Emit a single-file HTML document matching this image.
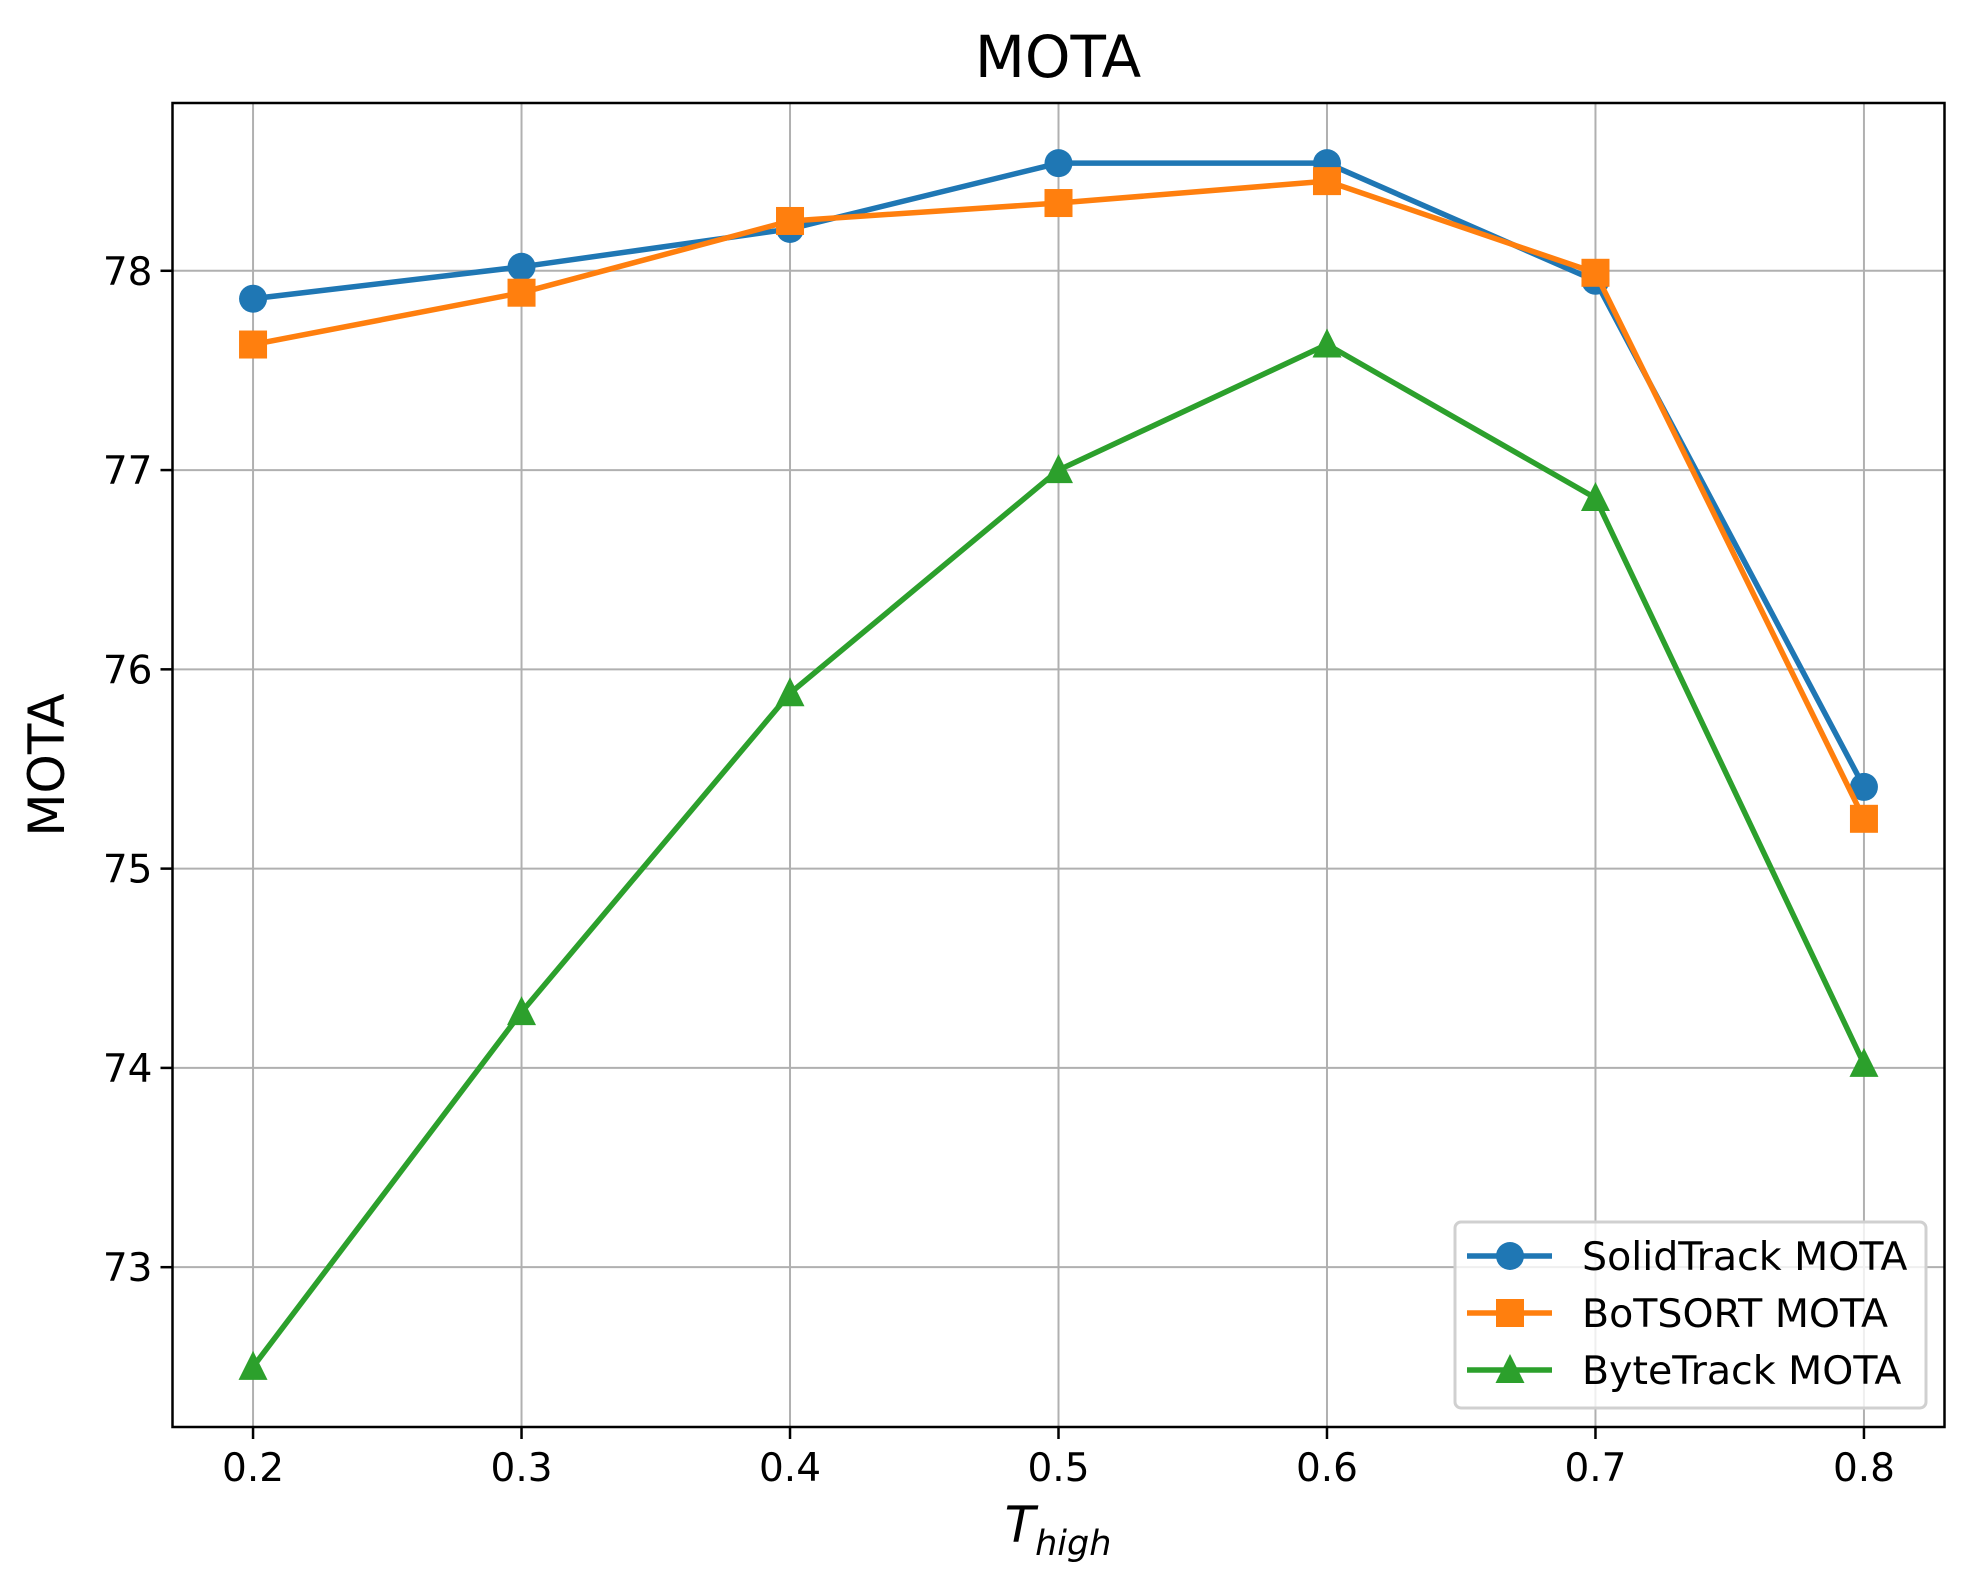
<!DOCTYPE html>
<html><head><meta charset="utf-8"><style>
html,body{margin:0;padding:0;background:#fff;}
svg{display:block;font-family:"DejaVu Sans","Liberation Sans",sans-serif;}
</style></head><body>
<svg id="chart" width="1975" height="1586" viewBox="0 0 1975 1586" xmlns="http://www.w3.org/2000/svg">
<rect width="1975" height="1586" fill="#fff"/>
<g id="grid"></g>
<g id="series"></g>
<rect x="172.5" y="103" width="1772" height="1324" fill="none" stroke="#000" stroke-width="2.5"/>
<g id="ticks"></g>
<text x="1058" y="77" font-size="58" text-anchor="middle">MOTA</text>
<text transform="translate(64,765) rotate(-90)" font-size="50" text-anchor="middle">MOTA</text>
<text x="1058" y="1542" font-size="50" text-anchor="middle" font-style="italic">T<tspan font-size="35" dy="13">high</tspan></text>
<g id="legend"></g>
</svg>
<script>
const categories = [0.2, 0.3, 0.4, 0.5, 0.6, 0.7, 0.8];
const solidTrack = [77.86, 78.02, 78.21, 78.54, 78.54, 77.95, 75.41];
const boTSORT = [77.63, 77.89, 78.25, 78.34, 78.45, 77.99, 75.25];
const byteTrack = [72.50, 74.28, 75.88, 77.00, 77.63, 76.86, 74.02];
const xTicks = ["0.2","0.3","0.4","0.5","0.6","0.7","0.8"];
const yTicks = [73, 74, 75, 76, 77, 78];
const seriesNames = ["SolidTrack MOTA", "BoTSORT MOTA", "ByteTrack MOTA"];

const NS = "http://www.w3.org/2000/svg";
const L = 172.5, R = 1944.5, T = 103, B = 1427;
const allV = solidTrack.concat(boTSORT, byteTrack);
const vmin = Math.min(...allV), vmax = Math.max(...allV);
const ypad = (vmax - vmin) * 0.05;
const y0 = vmin - ypad, y1 = vmax + ypad;
const cmin = Math.min(...categories), cmax = Math.max(...categories);
const xpad = (cmax - cmin) * 0.05;
const xs = v => L + (v - (cmin - xpad)) / ((cmax + xpad) - (cmin - xpad)) * (R - L);
const ys = v => B - (v - y0) / (y1 - y0) * (B - T);
function mk(tag, attrs, parent) {
  const e = document.createElementNS(NS, tag);
  for (const k in attrs) e.setAttribute(k, attrs[k]);
  parent.appendChild(e);
  return e;
}
const grid = document.getElementById('grid'), ticks = document.getElementById('ticks'), ser = document.getElementById('series'), leg = document.getElementById('legend');
categories.forEach((c, i) => {
  const x = xs(c);
  const g = mk('line', {x1: x, x2: x, y1: T, y2: B, stroke: '#b0b0b0', 'stroke-width': 2}, grid);
  
  
  const t = mk('line', {x1: x, x2: x, y1: B, y2: B + 12, stroke: '#000', 'stroke-width': 2.5}, ticks);
  
  
  const tx = mk('text', {x: x, y: B + 54, 'font-size': 39, 'text-anchor': 'middle'}, ticks);
  tx.textContent = xTicks[i];
  
  
});
yTicks.forEach(v => {
  const y = ys(v);
  const g = mk('line', {x1: L, x2: R, y1: y, y2: y, stroke: '#b0b0b0', 'stroke-width': 2}, grid);
  
  
  const t = mk('line', {x1: L - 12, x2: L, y1: y, y2: y, stroke: '#000', 'stroke-width': 2.5}, ticks);
  
  
  const tx = mk('text', {x: L - 20, y: y + 14, 'font-size': 39, 'text-anchor': 'end'}, ticks);
  tx.textContent = v;
  
  
});
const colors = ['#1f77b4', '#ff7f0e', '#2ca02c'];
const shapes = ['circle', 'square', 'triangle'];
function marker(shape, x, y, color, parent) {
  let e;
  if (shape === 'circle') e = mk('circle', {cx: x, cy: y, r: 14, fill: color}, parent);
  else if (shape === 'square') e = mk('rect', {x: x - 14, y: y - 14, width: 28, height: 28, fill: color}, parent);
  else e = mk('polygon', {points: `${x},${y - 16} ${x - 14.5},${y + 13} ${x + 14.5},${y + 13}`, fill: color}, parent);
  return e;
}
[solidTrack, boTSORT, byteTrack].forEach((vals, si) => {
  const pts = vals.map((v, i) => xs(categories[i]) + ',' + ys(v)).join(' ');
  const pl = mk('polyline', {points: pts, fill: 'none', stroke: colors[si], 'stroke-width': 5.5, 'stroke-linejoin': 'round'}, ser);
  
  
  vals.forEach((v, i) => {
    const m = marker(shapes[si], xs(categories[i]), ys(v), colors[si], ser);
    
    
  });
});
const box = mk('rect', {x: 1455, y: 1222, width: 471, height: 186, rx: 6, fill: 'rgba(255,255,255,0.8)', stroke: '#d0d0d0', 'stroke-width': 3}, leg);


seriesNames.forEach((n, i) => {
  const y = 1256 + i * 57;
  const ln = mk('line', {x1: 1467, x2: 1552, y1: y, y2: y, stroke: colors[i], 'stroke-width': 5.5}, leg);
  
  
  const m = marker(shapes[i], 1510, y, colors[i], leg);
  
  
  const t = mk('text', {x: 1582, y: y + 14, 'font-size': 39.5}, leg);
  t.textContent = n;
  
  
});
</script>
</body></html>
